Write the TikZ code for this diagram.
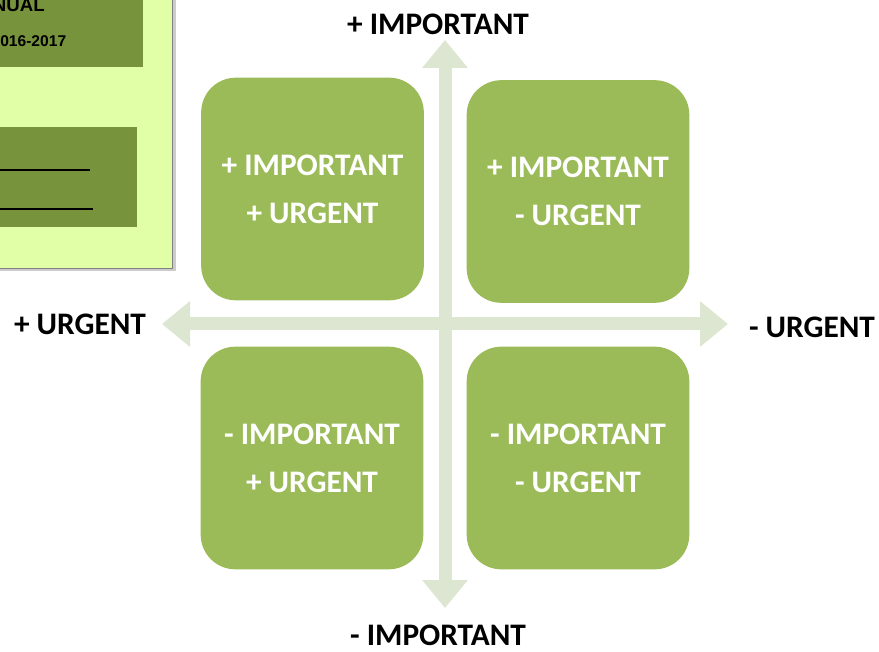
\documentclass[tikz,border=0pt]{standalone}
\usepackage{fontspec}
\setmainfont{Carlito}
\newfontfamily\arialfont{Liberation Sans}
\usetikzlibrary{arrows.meta,shadows}
\definecolor{quadgreen}{HTML}{9BBB59}
\definecolor{axisgreen}{HTML}{DCE6D1}
\definecolor{panelyellow}{HTML}{E0FFA6}
\definecolor{panelolive}{HTML}{77933C}
\begin{document}
\begin{tikzpicture}[x=0.75pt,y=-0.75pt,
  quad/.style={fill=quadgreen,rounded corners=26pt,minimum width=167pt,minimum height=167pt,
    text=white,align=center,font=\bfseries\fontsize{23.5}{36}\selectfont},
  axislabel/.style={font=\bfseries\fontsize{23.5}{28}\selectfont},
  axis/.style={draw=axisgreen,line width=9.75pt,{Triangle[width=33pt,length=21pt]}-{Triangle[width=33pt,length=21pt]}}]
  \useasboundingbox (0,0) rectangle (879,652);

  % left panel (cut off)
  \begin{scope}
    \clip (0,0) rectangle (879,652);
    \fill[panelyellow,draw=gray,drop shadow={shadow xshift=3pt,shadow yshift=-2pt,opacity=0.4}] (-10,-10) rectangle (172,268);
    \fill[panelolive] (-10,-10) rectangle (143,67);
    \fill[panelolive] (-10,127) rectangle (137,227);
    \node[anchor=base east,inner sep=0pt,font=\arialfont\bfseries\fontsize{14}{16}\selectfont] (title) at (45,12) {NUAL};
    \node[anchor=base west,inner sep=0pt,font=\arialfont\bfseries\fontsize{11.7}{14}\selectfont] (year) at (0,47) {016-2017};
    \draw[line width=1.6pt] (-10,170) -- (90,170);
    \draw[line width=1.6pt] (-10,209) -- (93,209);
  \end{scope}

  % axes
  \coordinate (top) at (445,40);
  \coordinate (bot) at (445,608);
  \coordinate (lft) at (162,324);
  \coordinate (rgt) at (728,324);
  \draw[axis] (bot) -- (top);
  \draw[axis] (lft) -- (rgt);

  \node[axislabel] (imp) at (438,24) {+ IMPORTANT};
  \node[axislabel] (nimp) at (438,635) {- IMPORTANT};
  \node[axislabel] (urg) at (80,324) {+ URGENT};
  \node[axislabel] (nurg) at (812,327) {- URGENT};

  % quadrants
  \node[quad] (q1) at (312.5,189) {+ IMPORTANT\\+ URGENT};
  \node[quad] (q2) at (578,191.5) {+ IMPORTANT\\- URGENT};
  \node[quad] (q3) at (312,458) {- IMPORTANT\\+ URGENT};
  \node[quad] (q4) at (578,458) {- IMPORTANT\\- URGENT};
\end{tikzpicture}
\end{document}
